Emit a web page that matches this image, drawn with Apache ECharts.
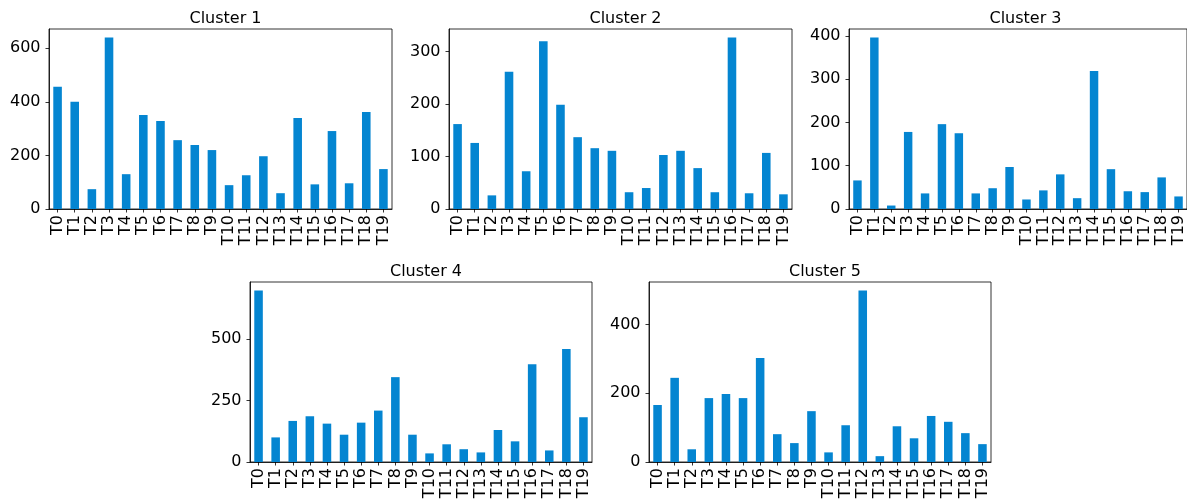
<!DOCTYPE html>
<html>
<head>
<meta charset="utf-8">
<script src="https://cdn.jsdelivr.net/npm/echarts@6/dist/echarts.min.js"></script>
<style>
html,body{margin:0;padding:0;background:#fff;}
#c{width:1187px;height:502px;}
</style>
</head>
<body>
<div id="c"></div>
<script>
const categories = ["T0","T1","T2","T3","T4","T5","T6","T7","T8","T9","T10","T11","T12","T13","T14","T15","T16","T17","T18","T19"];
const cluster1 = [456,400,74,640,130,351,329,257,239,220,89,126,197,59,340,92,291,96,362,149];
const cluster2 = [162,126,26,262,72,320,199,137,116,111,32,40,103,111,78,32,327,30,107,28];
const cluster3 = [66,396,8,178,36,196,175,36,48,97,22,43,80,25,319,92,41,39,73,29];
const cluster4 = [697,100,167,186,156,111,160,209,345,111,35,72,52,39,130,84,397,47,459,182];
const cluster5 = [166,245,37,186,198,186,303,81,55,148,28,107,499,17,104,69,134,117,84,52];
const titles = ["Cluster 1","Cluster 2","Cluster 3","Cluster 4","Cluster 5"];
const yTicks1 = [0,200,400,600];
const yTicks2 = [0,100,200,300];
const yTicks3 = [0,100,200,300,400];
const yTicks4 = [0,250,500];
const yTicks5 = [0,200,400];

const seriesData = [cluster1,cluster2,cluster3,cluster4,cluster5];
const yTicks = [yTicks1,yTicks2,yTicks3,yTicks4,yTicks5];
const grids = [
  {left:49, top:29, width:343, height:180},
  {left:449, top:29, width:343, height:180},
  {left:849, top:29, width:343, height:180},
  {left:250, top:282, width:342, height:180},
  {left:649, top:282, width:342, height:180}
];
const FONT = "DejaVu Sans";
const color = "#0485d1";

const option = {
  animation:false,
  backgroundColor:'#fff',
  title: titles.map((t,i)=>({
    text:t,
    left: grids[i].left + grids[i].width/2,
    top: grids[i].top - 23,
    textAlign:'center',
    textStyle:{fontFamily:FONT,fontSize:16,fontWeight:'normal',color:'#000'}
  })),
  grid: grids.map(g=>Object.assign({show:true,borderColor:'#000',borderWidth:0.8,backgroundColor:'transparent',containLabel:false},g)),
  xAxis: grids.map((g,i)=>({
    type:'category', gridIndex:i, data:categories,
    axisLine:{show:true,lineStyle:{color:'#000',width:0.8}},
    axisTick:{show:true,alignWithLabel:true,length:3.5,lineStyle:{color:'#000',width:0.8}},
    axisLabel:{rotate:90,interval:0,fontFamily:FONT,fontSize:16,color:'#000',margin:6}
  })),
  yAxis: grids.map((g,i)=>{
    const mx = Math.max.apply(null, seriesData[i]) * 1.05;
    return {
      type:'value', gridIndex:i, min:0, max:mx,
      splitLine:{show:false},
      axisLine:{show:true,lineStyle:{color:'#000',width:0.8}},
      axisTick:{show:true,length:3.5,lineStyle:{color:'#000',width:0.8},customValues:yTicks[i]},
      axisLabel:{fontFamily:FONT,fontSize:16,color:'#000',margin:8.5,customValues:yTicks[i]}
    };
  }),
  series: seriesData.map((d,i)=>({
    type:'bar', xAxisIndex:i, yAxisIndex:i, data:d, barWidth:'50%',
    itemStyle:{color:color}
  }))
};
const chart = echarts.init(document.getElementById('c'), null, {renderer:'canvas'});
chart.setOption(option);
</script>
</body>
</html>
